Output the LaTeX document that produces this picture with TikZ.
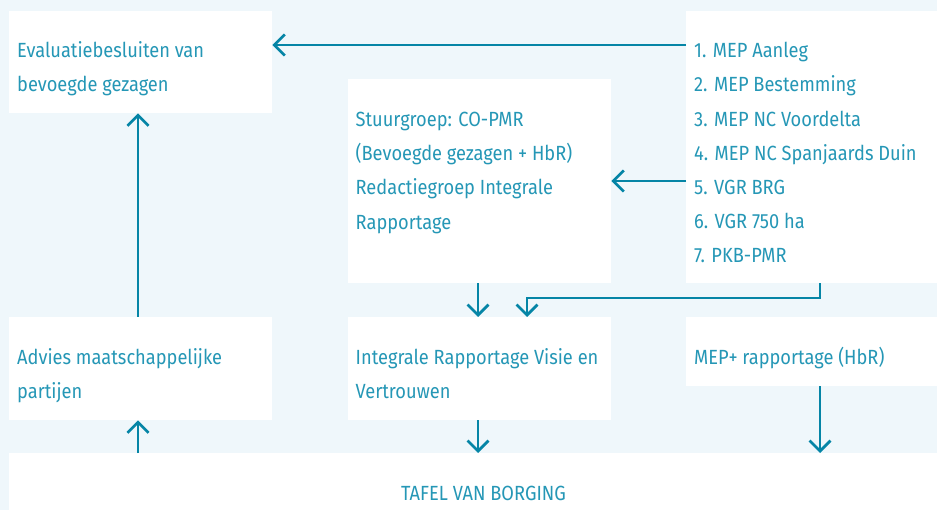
\documentclass[tikz,border=0pt]{standalone}
\usepackage{fontspec}
\setmainfont{Fira Sans}[FakeStretch=0.89]
\usetikzlibrary{arrows.meta}
\definecolor{bgc}{HTML}{EFF7FB}
\definecolor{txc}{HTML}{2597B6}
\definecolor{arc}{HTML}{0585A6}
\tikzset{
  box/.style={fill=white, draw=none, inner sep=0, anchor=north west},
  txt/.style={anchor=base west, inner sep=0, text=txc, font=\fontsize{20.5bp}{24bp}\selectfont},
  ctxt/.style={anchor=base, inner sep=0, text=txc, font=\fontsize{20.5bp}{24bp}\selectfont},
  arr/.style={draw=arc, line width=2.7bp, -{Straight Barb[length=10.5bp,width=21bp]}}
}
\begin{document}
\begin{tikzpicture}[x=1bp,y=-1bp]
\useasboundingbox (0,0) rectangle (937,510);
\fill[bgc] (0,0) rectangle (937,510);
% boxes
\node[box, minimum width=263bp, minimum height=102bp] (b1) at (9,11) {};
\node[box, minimum width=263bp, minimum height=204bp] (b2) at (348,79) {};
\node[box, minimum width=251bp, minimum height=272bp] (b3) at (686,11) {};
\node[box, minimum width=263bp, minimum height=103bp] (m1) at (9,317) {};
\node[box, minimum width=263bp, minimum height=103bp] (m2) at (348,317) {};
\node[box, minimum width=251bp, minimum height=69bp] (m3) at (686,317) {};
\node[box, minimum width=928bp, minimum height=57bp] (tb) at (9,453) {};
% texts
\node[txt] (t11) at (17,57.8) {Evaluatiebesluiten van};
\node[txt] (t12) at (17,92) {bevoegde gezagen};
\node[txt] (t21) at (355.5,126.5) {Stuurgroep: CO-PMR};
\node[txt] (t22) at (355.5,160.7) {(Bevoegde gezagen + HbR)};
\node[txt] (t23) at (355.5,194.9) {Redactiegroep Integrale};
\node[txt] (t24) at (355.5,229.1) {Rapportage};
\node[txt] (l1) at (694,57.8) {1. MEP Aanleg};
\node[txt] (l2) at (694,92) {2. MEP Bestemming};
\node[txt] (l3) at (694,126.2) {3. MEP NC Voordelta};
\node[txt] (l4) at (694,160.4) {4. MEP NC Spanjaards Duin};
\node[txt] (l5) at (694,194.6) {5. VGR BRG};
\node[txt] (l6) at (694,228.8) {6. VGR 750 ha};
\node[txt] (l7) at (694,263) {7. PKB-PMR};
\node[txt] (tm11) at (17,364.3) {Advies maatschappelijke};
\node[txt] (tm12) at (17,398.5) {partijen};
\node[txt] (tm21) at (355.5,364.3) {Integrale Rapportage Visie en};
\node[txt] (tm22) at (355.5,398.5) {Vertrouwen};
\node[txt] (tm31) at (694,364.3) {MEP+ rapportage (HbR)};
\node[ctxt] (tt) at (483.5,500.3) {TAFEL VAN BORGING};
% connectors
\coordinate (a1) at ([yshift=-34bp]b1.north east);
\coordinate (a2) at ([yshift=-102bp]b2.north east);
\draw[arr] (b3.west |- a1) -- (a1);
\draw[arr] (b3.west |- a2) -- (a2);
\coordinate (x1) at (138,0);
\coordinate (x2) at (478,0);
\coordinate (x3) at (527,0);
\coordinate (x4) at (820,0);
\coordinate (kink) at (0,298);
\draw[arr] (b2.south -| x2) -- (m2.north -| x2);
\draw[arr] (b3.south -| x4) -- (kink -| x4) -- (kink -| x3) -- (m2.north -| x3);
\draw[arr] (m1.north -| x1) -- (b1.south -| x1);
\draw[arr] (tb.north -| x1) -- (m1.south -| x1);
\draw[arr] (m2.south -| x2) -- (tb.north -| x2);
\draw[arr] (m3.south -| x4) -- (tb.north -| x4);
\end{tikzpicture}
\end{document}
